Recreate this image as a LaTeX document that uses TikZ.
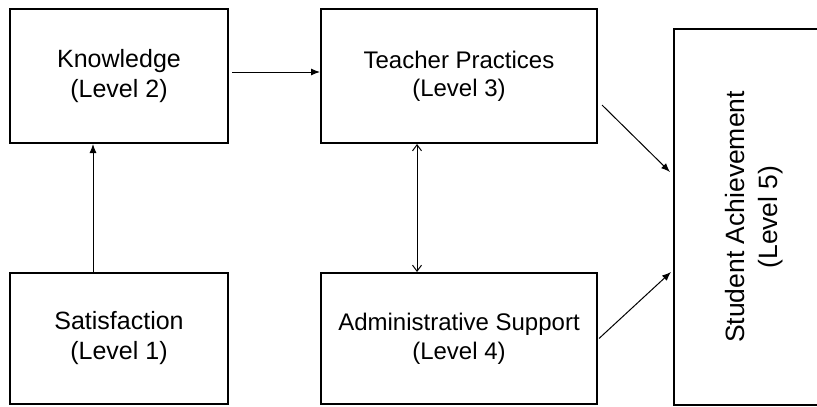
\documentclass[tikz,border=0pt]{standalone}
\usepackage{fontspec}
\setmainfont{Liberation Sans}
\usepackage{graphicx}
\usetikzlibrary{arrows.meta}

\begin{document}
\begin{tikzpicture}[x=1pt,y=-1pt,
  box/.style={draw,line width=2pt,rectangle,align=center,inner sep=0pt},
  arr/.style={line width=1pt,-{Latex[length=9pt,width=7pt]}},
  darr/.style={line width=1pt,{Straight Barb[length=6pt,width=9pt]}-{Straight Barb[length=6pt,width=9pt]}}]
\clip (0,0) rectangle (817,407);
\node[box,minimum width=218pt,minimum height=134pt,font=\fontsize{25}{30}\selectfont] (know) at (119,76) {Knowledge\\(Level 2)};
\node[box,minimum width=276pt,minimum height=134pt,font=\fontsize{24}{28}\selectfont] (teach) at (459,76) {Teacher Practices\\(Level 3)};
\node[box,minimum width=218pt,minimum height=131pt,font=\fontsize{25}{30}\selectfont] (sat) at (119,338.5) {Satisfaction\\(Level 1)};
\node[box,minimum width=276pt,minimum height=131pt,font=\fontsize{24}{29}\selectfont] (adm) at (459,338.5) {Administrative Support\\(Level 4)};
\node[box,minimum width=160pt,minimum height=376pt,font=\fontsize{26.5}{33}\selectfont] (stud) at (754,217)
  {\rotatebox{90}{\begin{tabular}{@{}c@{}}Student Achievement\\(Level 5)\end{tabular}}};
\draw[arr] ([shift={(3,-4)}]know.east) -- ([shift={(0,-4)}]teach.west);
\draw[arr] ([shift={(-26,0)}]sat.north) -- ([shift={(-26,0)}]know.south);
\draw[darr] ([shift={(-42,0)}]teach.south) -- ([shift={(-42,0)}]adm.north);
\draw[arr] ([shift={(4,29)}]teach.east) -- ([shift={(-3,-45)}]stud.west);
\draw[arr] ([shift={(1,0)}]adm.east) -- ([shift={(-2,55)}]stud.west);
\end{tikzpicture}
\end{document}
